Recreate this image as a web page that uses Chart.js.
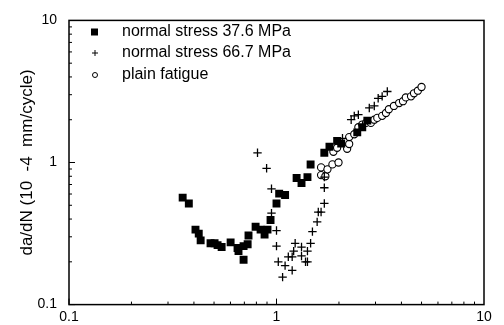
<!DOCTYPE html>
<html>
<head>
<meta charset="utf-8">
<script src="https://cdn.jsdelivr.net/npm/chart.js@4"></script>
<style>
  html, body { margin: 0; padding: 0; background: #fff; }
  #wrap { width: 504px; height: 325px; }
</style>
</head>
<body>
<div id="wrap"><canvas id="c"></canvas></div>
<script>
// normal stress 37.6 MPa
const sq_x = [0.353, 0.378, 0.407, 0.422, 0.431, 0.481, 0.503, 0.520, 0.544, 0.601, 0.649, 0.656,
              0.694, 0.694, 0.726, 0.733, 0.793, 0.838, 0.876, 0.905, 0.936, 1.00, 1.03, 1.10,
              1.25, 1.32, 1.41, 1.46, 1.70, 1.80, 1.96, 2.05, 2.45, 2.59, 2.74];
const sq_y = [0.566, 0.515, 0.337, 0.316, 0.283, 0.270, 0.270, 0.262, 0.254, 0.274, 0.250, 0.238,
              0.207, 0.258, 0.266, 0.306, 0.353, 0.337, 0.311, 0.337, 0.394, 0.515, 0.604, 0.590,
              0.777, 0.718, 0.789, 0.969, 1.17, 1.29, 1.42, 1.36, 1.63, 1.77, 1.97];

// normal stress 66.7 MPa
const plus_x = [0.81, 0.896, 0.946, 0.946, 1.00, 1.00, 1.02, 1.10, 1.07, 1.14, 1.19, 1.19, 1.21,
                1.23, 1.32, 1.32, 1.38, 1.41, 1.41, 1.46, 1.49, 1.57, 1.59, 1.64, 1.70, 1.70,
                1.70, 2.08, 2.29, 2.37, 2.48, 2.80, 2.96, 3.09, 3.23, 3.42];
const plus_y = [1.17, 0.91, 0.653, 0.44, 0.332, 0.258, 0.20, 0.188, 0.156, 0.217, 0.217, 0.174, 0.238,
                0.27, 0.254, 0.22, 0.20, 0.20, 0.238, 0.27, 0.326, 0.382, 0.448, 0.448, 0.515, 0.664,
                0.789, 1.48, 2.00, 2.13, 2.17, 2.42, 2.50, 2.83, 2.92, 3.16];

// plain fatigue
const circ_x = [1.64, 1.64, 1.72, 1.76, 1.86, 1.99, 1.88, 1.96, 2.19, 2.24, 2.24, 2.37, 2.48, 2.59,
                2.70, 2.85, 2.96, 3.06, 3.23, 3.37, 3.48, 3.68, 3.90, 4.07, 4.20, 4.45, 4.60, 4.80, 5.00];
const circ_y = [0.924, 0.815, 0.80, 0.895, 0.97, 1.00, 1.19, 1.27, 1.25, 1.35, 1.51, 1.58, 1.77, 1.85,
                1.90, 1.90, 2.00, 2.06, 2.13, 2.23, 2.37, 2.50, 2.62, 2.70, 2.87, 2.92, 3.07, 3.20, 3.40];

const axisTicks = [0.1, 1, 10];
const seriesNames = ['normal stress 37.6 MPa', 'normal stress 66.7 MPa', 'plain fatigue'];

function pts(xs, ys) {
    return xs.map((x, i) => ({ x: x, y: ys[i] }));
}

const FONT = '"Liberation Sans", Arial, sans-serif';

// 框線、內向刻度、圖例
const framePlugin = {
    id: 'frame',
    afterDraw(chart) {
        const ctx = chart.ctx;
        const a = chart.chartArea;
        const xs = chart.scales.x, ys = chart.scales.y;
        ctx.save();
        ctx.strokeStyle = '#000';
        ctx.lineWidth = 1.5;
        ctx.strokeRect(a.left, a.top, a.right - a.left, a.bottom - a.top);

        ctx.lineWidth = 1;
        ctx.beginPath();
        [0.1, 1].forEach(d => {
            for (let k = 1; k <= 9; k++) {
                const v = k * d;
                const len = k === 1 ? 6 : 3;
                const px = xs.getPixelForValue(v);
                const py = ys.getPixelForValue(v);
                ctx.moveTo(px, a.bottom); ctx.lineTo(px, a.bottom - len);
                ctx.moveTo(a.left, py); ctx.lineTo(a.left + len, py);
            }
        });
        ctx.stroke();

        // legend
        const rows = [32, 53, 75];
        chart.data.datasets.forEach((ds, i) => {
            const y = rows[i];
            ctx.fillStyle = '#000';
            ctx.strokeStyle = '#000';
            if (ds.pointStyle === 'rect') {
                ctx.fillRect(91, y - 3.5, 7, 7);
            } else if (ds.pointStyle === 'cross') {
                ctx.lineWidth = 1;
                ctx.beginPath();
                ctx.moveTo(92, y); ctx.lineTo(98, y);
                ctx.moveTo(95, y - 3); ctx.lineTo(95, y + 3);
                ctx.stroke();
            } else {
                ctx.lineWidth = 1;
                ctx.beginPath();
                ctx.arc(95, y, 2.5, 0, Math.PI * 2);
                ctx.stroke();
            }
            ctx.font = '16px ' + FONT;
            ctx.textBaseline = 'middle';
            ctx.textAlign = 'left';
            ctx.fillText(ds.label, 122, y);
        });
        ctx.restore();
    }
};

new Chart(document.getElementById('c'), {
    type: 'scatter',
    data: {
        datasets: [{
            label: seriesNames[0],
            data: pts(sq_x, sq_y),
            pointStyle: 'rect',
            pointRadius: 5.6,
            backgroundColor: '#000',
            borderColor: '#000',
            borderWidth: 0
        }, {
            label: seriesNames[1],
            data: pts(plus_x, plus_y),
            pointStyle: 'cross',
            pointRadius: 4.2,
            backgroundColor: '#000',
            borderColor: '#000',
            borderWidth: 1.3
        }, {
            label: seriesNames[2],
            data: pts(circ_x, circ_y),
            pointStyle: 'circle',
            pointRadius: 3.6,
            backgroundColor: '#fff',
            borderColor: '#000',
            borderWidth: 1.1
        }]
    },
    options: {
        responsive: true,
        maintainAspectRatio: false,
        animation: false,
        layout: { padding: { top: 15, right: 20, left: 0, bottom: 0 } },
        plugins: {
            legend: { display: false },
            tooltip: { enabled: false }
        },
        scales: {
            x: {
                type: 'logarithmic',
                min: 0.1,
                max: 10,
                grid: { display: false, drawTicks: false },
                border: { display: false },
                afterBuildTicks: s => { s.ticks = axisTicks.map(v => ({ value: v })); },
                afterFit: s => { s.height = 20; },
                ticks: {
                    color: '#000',
                    padding: 4,
                    autoSkip: false,
                    maxRotation: 0,
                    font: { family: FONT, size: 14 },
                    callback: v => String(v)
                }
            },
            y: {
                type: 'logarithmic',
                min: 0.1,
                max: 10,
                grid: { display: false, drawTicks: false },
                border: { display: false },
                afterBuildTicks: s => { s.ticks = axisTicks.map(v => ({ value: v })); },
                afterFit: s => { s.width = 69; },
                title: {
                    display: true,
                    text: 'da/dN (10  -4  mm/cycle)',
                    color: '#000',
                    padding: { top: 17, bottom: 0 },
                    font: { family: FONT, size: 17 }
                },
                ticks: {
                    color: '#000',
                    padding: 12,
                    autoSkip: false,
                    font: { family: FONT, size: 14 },
                    callback: v => String(v)
                }
            }
        }
    },
    plugins: [framePlugin]
});
</script>
</body>
</html>
